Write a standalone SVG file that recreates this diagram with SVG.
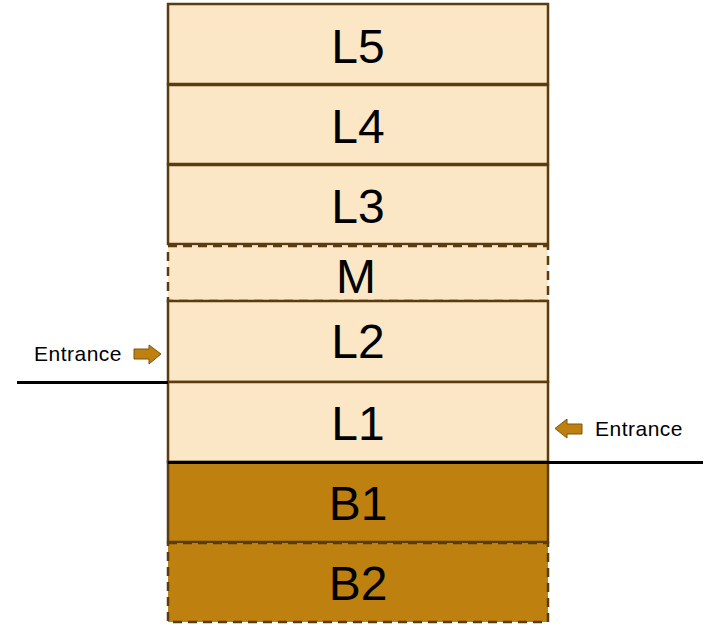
<svg xmlns="http://www.w3.org/2000/svg" width="707" height="625" viewBox="0 0 707 625">
<style>
.lt{fill:#FBE7C6;stroke:#5A3C10;stroke-width:2.5}
.dk{fill:#BE810F;stroke:#5A3C10;stroke-width:2.5}
.ds{stroke-dasharray:9 6}
.big{font-family:"Liberation Sans",Arial,sans-serif;font-size:48px;fill:#000;text-anchor:middle}
.sm{font-family:"Liberation Sans",Arial,sans-serif;font-size:21px;letter-spacing:0.5px;fill:#000}
.arr{fill:#BE810F;stroke:#7A5410;stroke-width:1}
.gl{stroke:#000;stroke-width:3;fill:none}
</style>
<g id="L5"><rect class="lt" x="168" y="4" width="380" height="80"/><text class="big" x="358" y="63">L5</text></g>
<g id="L4"><rect class="lt" x="168" y="85" width="380" height="79"/><text class="big" x="358" y="143">L4</text></g>
<g id="L3"><rect class="lt" x="168" y="165" width="380" height="79"/><text class="big" x="358" y="223">L3</text></g>
<g id="M"><rect class="lt ds" x="168" y="246" width="380" height="55"/><text class="big" x="356" y="293">M</text></g>
<g id="L2"><rect class="lt" x="168" y="301" width="380" height="81"/><text class="big" x="358" y="358">L2</text></g>
<g id="L1"><rect class="lt" x="168" y="382" width="380" height="80"/><text class="big" x="358" y="440">L1</text></g>
<g id="B1"><rect class="dk" x="168" y="462" width="380" height="80"/><text class="big" x="358" y="520">B1</text></g>
<g id="B2"><rect class="dk ds" x="168" y="543" width="380" height="79"/><text class="big" x="358" y="600">B2</text></g>
<g id="connectors">
<line class="gl" x1="17" y1="382.5" x2="168" y2="382.5"/>
<line class="gl" x1="168" y1="462.5" x2="703" y2="462.5"/>
</g>
<g id="entrance-left">
<text class="sm" x="34" y="361">Entrance</text>
<polygon class="arr" points="134,349 149,349 149,345 161,354 149,364 149,359 134,359"/>
</g>
<g id="entrance-right">
<text class="sm" x="595" y="436">Entrance</text>
<polygon class="arr" points="582,424 567,424 567,419 555,428.5 567,438 567,434 582,434"/>
</g>
</svg>
